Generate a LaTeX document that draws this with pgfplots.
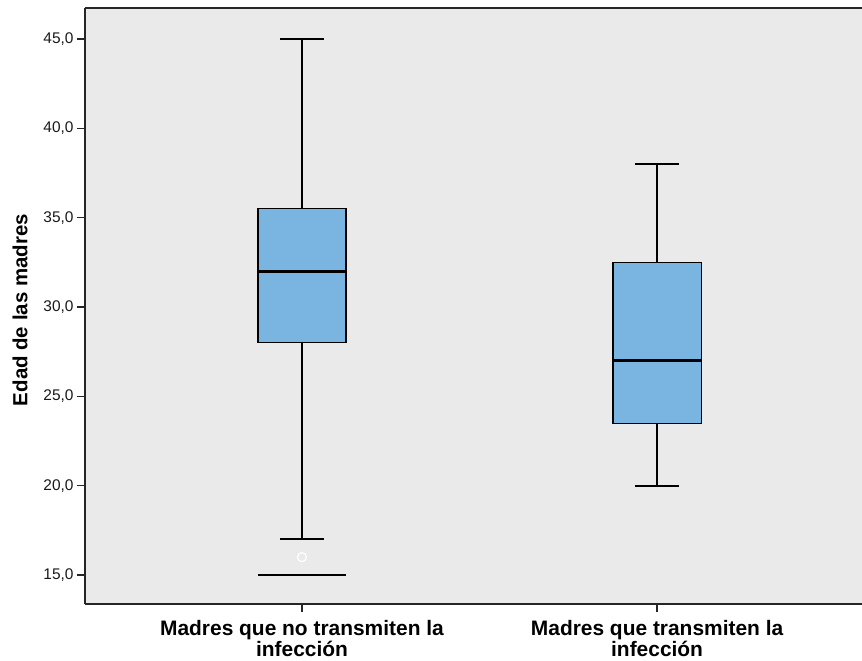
\documentclass[border=0pt]{standalone}
\usepackage{fontspec}
\setmainfont{Liberation Sans}
\usepackage{pgfplots}
\pgfplotsset{compat=1.18}
\definecolor{boxblue}{HTML}{79B5E0}
\definecolor{panel}{HTML}{EAEAEA}
\pgfplotsset{
  whisker/.style={black, line width=2.3bp, mark=none},
  boxbody/.style={fill=boxblue, draw=black, line width=1.2bp, mark=none},
  medianline/.style={black, line width=2.8bp, mark=none},
}
\begin{document}
\begin{tikzpicture}
\path[use as bounding box] (0,0) rectangle (862bp,661bp);
\begin{axis}[
  at={(85bp,57bp)}, anchor=south west,
  scale only axis, width=777bp, height=596bp,
  xmin=0.389, xmax=2.577, ymin=13.377, ymax=46.735,
  axis x line*=bottom, axis y line*=left,
  axis line style={line width=1.8bp, black!85},
  axis background/.style={fill=panel},
  tick align=outside, major tick length=8bp,
  tick style={line width=1.5bp, black!85},
  xtick={1,2},
  xticklabels={{Madres que no transmiten la\\infección},{Madres que transmiten la\\infección}},
  xticklabel style={align=center, font=\bfseries\fontsize{21}{19}\selectfont, yshift=-5bp},
  ytick={15,20,25,30,35,40,45},
  yticklabel style={font=\fontsize{15.5}{18}\selectfont, black!90},
  /pgf/number format/.cd, assume math mode=true, use comma, fixed, fixed zerofill, precision=1,
  /pgfplots/.cd,
  ylabel={Edad de las madres},
  ylabel style={font=\bfseries\fontsize{20.5}{22}\selectfont, at={(axis description cs:-0.0837,0.493)}, anchor=center},
  clip=false,
]
% top frame line of the plot panel
\draw[line width=1.8bp, black!85] (rel axis cs:0,1) -- (rel axis cs:1,1);

% --- Madres que no transmiten la infección (q1 28, median 32, q3 35.5, whiskers 17 / 45)
\addplot[whisker] coordinates {(1,35.5) (1,45)};
\addplot[whisker] coordinates {(0.938,45) (1.062,45)};
\addplot[whisker] coordinates {(1,28) (1,17)};
\addplot[whisker] coordinates {(0.938,17) (1.062,17)};
\addplot[boxbody] coordinates {(0.876,28) (1.124,28) (1.124,35.5) (0.876,35.5)} -- cycle;
\addplot[medianline] coordinates {(0.876,32) (1.124,32)};
% outlier
\addplot[only marks, mark=o, mark size=4.5bp, mark options={draw=white, line width=1.2bp}]
  coordinates {(1,16)};
% extreme value line
\addplot[whisker] coordinates {(0.876,15) (1.124,15)};

% --- Madres que transmiten la infección (q1 23.5, median 27, q3 32.5, whiskers 20 / 38)
\addplot[whisker] coordinates {(2,32.5) (2,38)};
\addplot[whisker] coordinates {(1.938,38) (2.062,38)};
\addplot[whisker] coordinates {(2,23.5) (2,20)};
\addplot[whisker] coordinates {(1.938,20) (2.062,20)};
\addplot[boxbody] coordinates {(1.876,23.5) (2.124,23.5) (2.124,32.5) (1.876,32.5)} -- cycle;
\addplot[medianline] coordinates {(1.876,27) (2.124,27)};
\end{axis}
\end{tikzpicture}
\end{document}
